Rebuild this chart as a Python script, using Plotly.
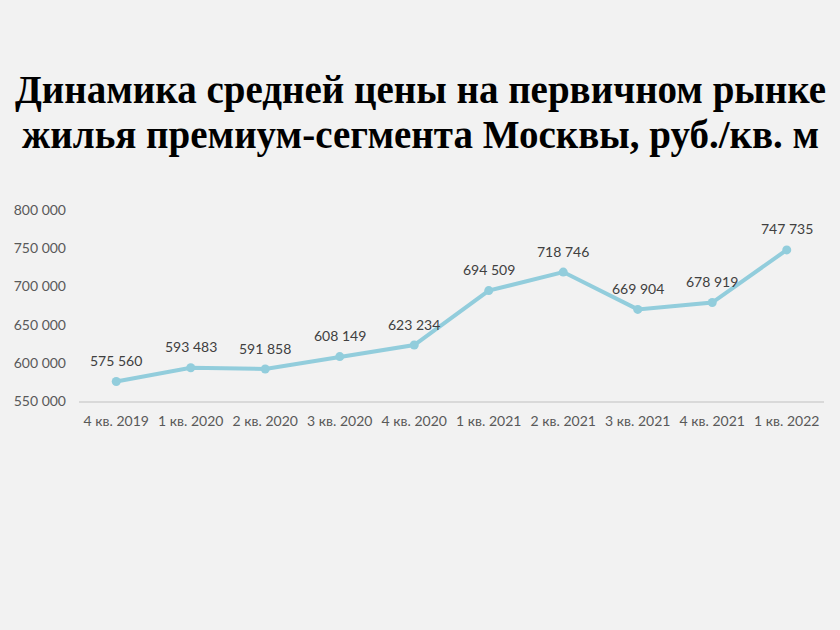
import plotly.graph_objects as go

categories = ["4 кв. 2019", "1 кв. 2020", "2 кв. 2020", "3 кв. 2020", "4 кв. 2020",
              "1 кв. 2021", "2 кв. 2021", "3 кв. 2021", "4 кв. 2021", "1 кв. 2022"]
prices = [575560, 593483, 591858, 608149, 623234, 694509, 718746, 669904, 678919, 747735]
y_ticks = [550000, 600000, 650000, 700000, 750000, 800000]

title_lines = ["Динамика средней цены на первичном рынке",
               "жилья премиум-сегмента Москвы, руб./кв. м"]
label_font = dict(family="Lato, Open Sans, sans-serif", size=14, color="#404040")
title_font = dict(family="Liberation Serif", size=39, color="#000000", weight=900)

fig = go.Figure()
fig.add_trace(go.Scatter(
    x=categories, y=prices, mode="lines+markers",
    line=dict(color="#92cddc", width=4),
    marker=dict(color="#92cddc", size=9),
    showlegend=False, cliponaxis=False,
))
for c, v in zip(categories, prices):
    fig.add_annotation(x=c, y=v, text=f"{v:,}".replace(",", " "), showarrow=False,
                       yshift=21, font=label_font)

# title lines (paper coords: plot area spans y 210..401 px, x 79..824 px)
for i, line in enumerate(title_lines):
    fig.add_annotation(xref="paper", yref="paper", x=(420 - 79) / 745, y=(401 - (90 + 45 * i)) / 191,
                       xanchor="center", yanchor="middle", text=line, showarrow=False,
                       font=title_font)

fig.update_layout(
    width=840, height=630,
    paper_bgcolor="#f2f2f2", plot_bgcolor="#f2f2f2",
    margin=dict(l=79, r=16, t=210, b=229),
    separators=", ",
    xaxis=dict(type="category", range=[-0.5, len(categories) - 0.5], showgrid=False,
               showline=True, linecolor="#d9d9d9",
               linewidth=1.5, ticks="", ticklabelstandoff=6, automargin=False,
               tickfont=dict(family="Lato, Open Sans, sans-serif", size=14, color="#595959")),
    yaxis=dict(range=[550000, 800000], tickvals=y_ticks, tickformat=",d", showgrid=False,
               zeroline=False, showline=False, ticks="", ticklabelstandoff=12, automargin=False,
               tickfont=dict(family="Lato, Open Sans, sans-serif", size=14, color="#595959")),
)

fig.write_html("out.html")
